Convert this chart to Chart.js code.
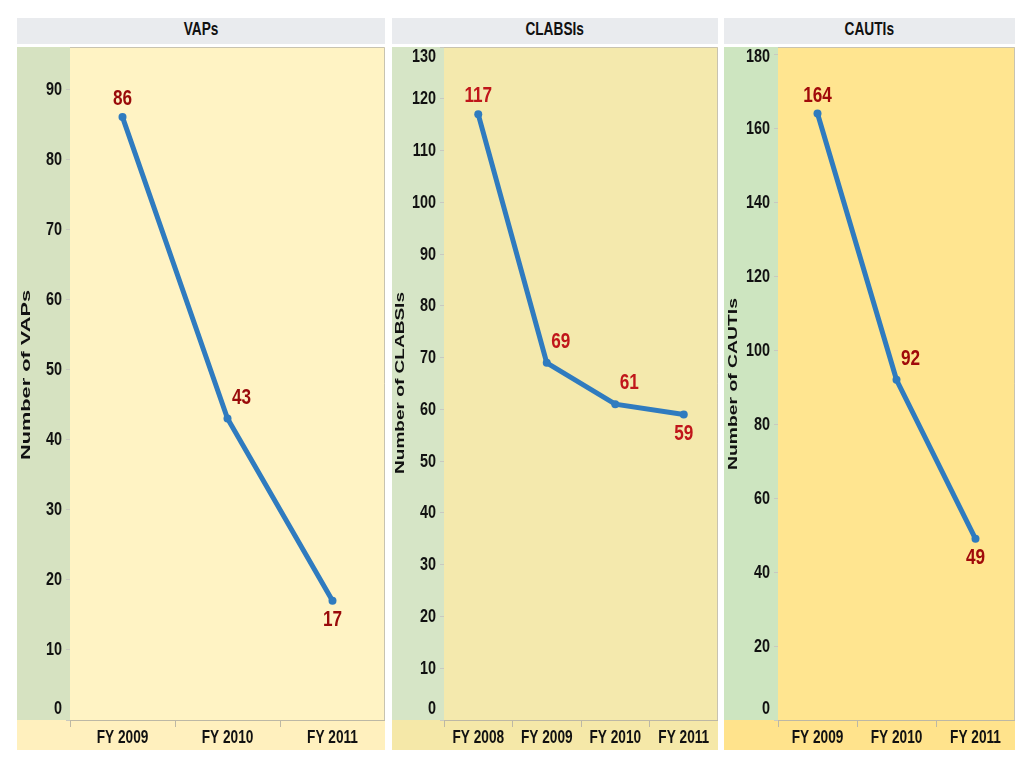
<!DOCTYPE html>
<html>
<head>
<meta charset="utf-8">
<script src="https://cdn.jsdelivr.net/npm/chart.js@4/dist/chart.umd.min.js"></script>
<style>
  body { margin: 0; background: #fff; width: 1024px; height: 768px; position: relative; overflow: hidden; }
  .panel { position: absolute; top: 18px; }
  .head { height: 26px; background: #e9ebee; text-align: center; line-height: 27px;
          font: bold 19px "Liberation Sans", Arial, sans-serif; color: #111; }
  .head span { display: inline-block; transform: scaleX(0.72); }
  .box { position: absolute; top: 29px; left: 0; }
</style>
</head>
<body>
<div class="panel" style="left:17px;width:368px"><div class="head"><span>VAPs</span></div><div class="box" style="width:368px;height:703px"><canvas id="c1"></canvas></div></div>
<div class="panel" style="left:392px;width:326px"><div class="head"><span>CLABSIs</span></div><div class="box" style="width:326px;height:703px"><canvas id="c2"></canvas></div></div>
<div class="panel" style="left:724px;width:291px"><div class="head"><span>CAUTIs</span></div><div class="box" style="width:291px;height:703px"><canvas id="c3"></canvas></div></div>
<script>
// Données
const vapYears = ["FY 2009", "FY 2010", "FY 2011"];
const vapValues = [86, 43, 17];
const vapTicks = [0, 10, 20, 30, 40, 50, 60, 70, 80, 90];

const clabsiYears = ["FY 2008", "FY 2009", "FY 2010", "FY 2011"];
const clabsiValues = [117, 69, 61, 59];
const clabsiTicks = [0, 10, 20, 30, 40, 50, 60, 70, 80, 90, 100, 110, 120, 130];

const cautiYears = ["FY 2009", "FY 2010", "FY 2011"];
const cautiValues = [164, 92, 49];
const cautiTicks = [0, 20, 40, 60, 80, 100, 120, 140, 160, 180];

const FONT = '"Liberation Sans", Arial, sans-serif';

// Texte condensé (pas de police "narrow" installée) : on écrase horizontalement
function narrowText(ctx, text, x, y, size, sx, align) {
    ctx.save();
    ctx.font = 'bold ' + size + 'px ' + FONT;
    ctx.textAlign = align;
    ctx.textBaseline = 'middle';
    ctx.translate(x, y);
    ctx.scale(sx, 1);
    ctx.fillText(text, 0, 0);
    ctx.restore();
}

// Fond : bande verte de l'axe, zone de tracé, bande du bas
const backdrop = {
    id: 'backdrop',
    beforeDraw(chart, args, opts) {
        const { ctx, chartArea: a, width, height } = chart;
        ctx.save();
        ctx.fillStyle = opts.axisColor;
        ctx.fillRect(0, 0, a.left, a.bottom);
        ctx.fillStyle = opts.bottomColor;
        ctx.fillRect(0, a.bottom, width, height - a.bottom);
        ctx.fillStyle = opts.plotColor;
        ctx.fillRect(a.left, a.top, a.right - a.left, a.bottom - a.top);
        ctx.strokeStyle = '#c8c3b0';
        ctx.lineWidth = 1;
        ctx.beginPath();
        ctx.moveTo(a.left, a.top + 0.5);
        ctx.lineTo(a.right - 0.5, a.top + 0.5);
        ctx.lineTo(a.right - 0.5, a.bottom);
        ctx.stroke();
        ctx.restore();
    }
};

// Libellés des axes et titre vertical
const axisText = {
    id: 'axisText',
    afterDraw(chart, args, opts) {
        const { ctx, chartArea: a, scales } = chart;
        ctx.save();
        ctx.fillStyle = '#111';
        scales.y.ticks.forEach(t => {
            // comme dans l'original, les libellés aux bords restent dans la zone
            let y = scales.y.getPixelForValue(t.value) + 0.5;
            y = Math.min(Math.max(y, a.top + 10), a.bottom - 11);
            narrowText(ctx, String(t.value), a.left - 8, y, 18, 0.8, 'right');
        });
        scales.x.ticks.forEach((t, i) => {
            narrowText(ctx, scales.x.getLabelForValue(t.value), scales.x.getPixelForTick(i), a.bottom + 18, 19, 0.72, 'center');
        });
        // titre de l'axe Y, étiré en longueur comme dans l'original
        ctx.font = 'bold 13px ' + FONT;
        const w = ctx.measureText(opts.title).width;
        ctx.translate(opts.titleX, opts.titleY);
        ctx.rotate(-Math.PI / 2);
        ctx.scale(opts.titleLength / w, 1);
        ctx.textAlign = 'center';
        ctx.textBaseline = 'middle';
        ctx.fillText(opts.title, 0, 0);
        ctx.restore();
    }
};

// Étiquettes de valeurs : premier point au-dessus, milieu en haut à droite, dernier en dessous
const valueLabels = {
    id: 'valueLabels',
    afterDatasetsDraw(chart, args, opts) {
        const { ctx } = chart;
        const meta = chart.getDatasetMeta(0);
        const data = chart.data.datasets[0].data;
        ctx.save();
        ctx.fillStyle = opts.color;
        meta.data.forEach((pt, i) => {
            let x = pt.x, y = pt.y;
            if (i === 0) { y -= 18; }
            else if (i === data.length - 1) { y += 19; }
            else { x += 14; y -= 21; }
            narrowText(ctx, String(data[i]), x, y, 22, 0.78, 'center');
        });
        ctx.restore();
    }
};

function buildChart(id, labels, values, ticks, yMax, axisWidth, titleOpts, colors) {
    return new Chart(document.getElementById(id), {
        type: 'line',
        data: {
            labels: labels,
            datasets: [{
                data: values,
                borderColor: '#2f7bbf',
                backgroundColor: '#2f7bbf',
                borderWidth: 5,
                pointRadius: 4,
                pointBorderWidth: 0,
                tension: 0
            }]
        },
        options: {
            responsive: true,
            maintainAspectRatio: false,
            animation: false,
            layout: { padding: 0, autoPadding: false },
            plugins: {
                legend: { display: false },
                tooltip: { enabled: false },
                backdrop: colors,
                valueLabels: { color: colors.labelColor },
                axisText: titleOpts
            },
            scales: {
                x: {
                    offset: true,
                    grid: { drawOnChartArea: false, offset: true, tickLength: 7, color: '#bdb8a5' },
                    border: { display: true, color: '#bdb8a5' },
                    ticks: { display: false },
                    afterFit(scale) {
                        scale.height = 30;
                        scale.paddingLeft = 0; scale.paddingRight = 0;
                    }
                },
                y: {
                    min: 0,
                    max: yMax,
                    afterBuildTicks(scale) { scale.ticks = ticks.map(v => ({ value: v })); },
                    grid: { drawOnChartArea: false, tickLength: 4, color: '#c9c9c0' },
                    border: { display: false },
                    ticks: { display: false },
                    afterFit(scale) {
                        scale.width = axisWidth;
                        scale.paddingTop = 0; scale.paddingBottom = 0;
                    }
                }
            }
        },
        plugins: [backdrop, axisText, valueLabels]
    });
}

buildChart('c1', vapYears, vapValues, vapTicks, 96, 53,
    { title: 'Number of VAPs', titleX: 9, titleY: 328, titleLength: 170 },
    { axisColor: '#d6e2c1', plotColor: '#fff3c4', bottomColor: '#fff0be', labelColor: '#990a0a' });
buildChart('c2', clabsiYears, clabsiValues, clabsiTicks, 130, 52,
    { title: 'Number of CLABSIs', titleX: 8, titleY: 336, titleLength: 182 },
    { axisColor: '#d6e5c6', plotColor: '#f4e9ad', bottomColor: '#f5e8a8', labelColor: '#c0161a' });
buildChart('c3', cautiYears, cautiValues, cautiTicks, 182, 54,
    { title: 'Number of CAUTIs', titleX: 9, titleY: 337, titleLength: 172 },
    { axisColor: '#cde5c0', plotColor: '#ffe590', bottomColor: '#ffe38c', labelColor: '#a00a0a' });
</script>
</body>
</html>
